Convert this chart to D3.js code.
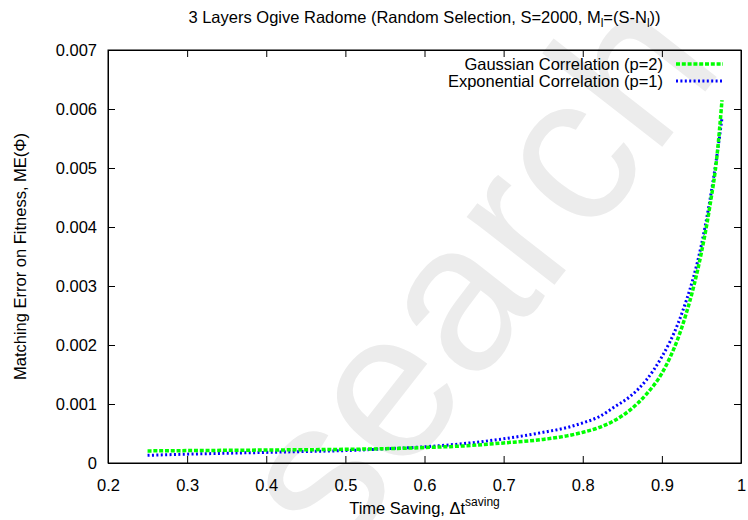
<!DOCTYPE html>
<html>
<head>
<meta charset="utf-8">
<script src="https://cdn.jsdelivr.net/npm/d3@7"></script>
<style>
  body { margin: 0; background: #fff; }
  svg { display: block; font-family: "Liberation Sans", Arial, sans-serif; }
</style>
</head>
<body>
<div class="chart"></div>
<script>
// values
const timeSaving = [0.25, 0.30, 0.35, 0.40, 0.45, 0.50, 0.55, 0.60, 0.65, 0.70, 0.75, 0.78, 0.80,
  0.82, 0.84, 0.86, 0.88, 0.90, 0.91, 0.92, 0.93, 0.94, 0.95, 0.96, 0.97, 0.976];
const gaussianErr = [0.000205, 0.00021, 0.000215, 0.00022, 0.000225, 0.000232, 0.000242, 0.000262, 0.00029,
  0.00034, 0.00040, 0.00046, 0.00052, 0.00060, 0.00072, 0.00090, 0.00116, 0.00152, 0.00178, 0.00210,
  0.00250, 0.00298, 0.00357, 0.00430, 0.00525, 0.00615];
const exponentialErr = [0.00013, 0.00015, 0.000165, 0.00018, 0.000195, 0.00021, 0.00024, 0.000275, 0.00033,
  0.00041, 0.00052, 0.00060, 0.00068, 0.00078, 0.00095, 0.00113, 0.00140, 0.00180, 0.00205, 0.00235,
  0.00272, 0.00315, 0.00370, 0.00440, 0.00525, 0.00585];
const xTicks = [0.2, 0.3, 0.4, 0.5, 0.6, 0.7, 0.8, 0.9, 1];
const yTicks = [0, 0.001, 0.002, 0.003, 0.004, 0.005, 0.006, 0.007];
const seriesNames = ["Gaussian Correlation (p=2)", "Exponential Correlation (p=1)"];

const width = 748;
const height = 520;
const margin = {top: 50, right: 7, bottom: 57, left: 108};
const tickLen = 7;
const fontSize = "16.5px";

const svg = d3.select(".chart").append("svg")
  .attr("width", width)
  .attr("height", height);

const x = d3.scaleLinear().domain([0.2, 1]).range([margin.left, width - margin.right]);
const y = d3.scaleLinear().domain([0, 0.007]).range([height - margin.bottom, margin.top]);

// faint watermark behind everything
svg.append("text")
  .attr("transform", "translate(488,281) rotate(-52)")
  .attr("text-anchor", "middle")
  .attr("dy", "0.26em")
  .style("font-size", "210px")
  .attr("fill", "#ececec")
  .text("search");

// axes with inward ticks, mirrored on top and right
const fmtY = d => d === 0 ? "0" : d3.format(".3f")(d);
const fmtX = d => d === 1 ? "1" : d3.format(".1f")(d);

svg.append("g")
  .attr("transform", "translate(0," + y(0) + ")")
  .call(d3.axisBottom(x).tickValues(xTicks).tickSizeInner(-tickLen).tickSizeOuter(0).tickPadding(16).tickFormat(fmtX));
svg.append("g")
  .attr("transform", "translate(0," + y(0.007) + ")")
  .call(d3.axisTop(x).tickValues(xTicks).tickSizeInner(-tickLen).tickSizeOuter(0).tickFormat(""));
svg.append("g")
  .attr("transform", "translate(" + x(0.2) + ",0)")
  .call(d3.axisLeft(y).tickValues(yTicks).tickSizeInner(-tickLen).tickSizeOuter(0).tickPadding(11).tickFormat(fmtY));
svg.append("g")
  .attr("transform", "translate(" + x(1) + ",0)")
  .call(d3.axisRight(y).tickValues(yTicks).tickSizeInner(-tickLen).tickSizeOuter(0).tickFormat(""));

svg.selectAll(".tick text")
  .style("font-size", fontSize)
  .style("font-family", "Liberation Sans, Arial, sans-serif")
  .attr("fill", "#000");
svg.selectAll(".domain").attr("stroke", "#000");
svg.selectAll(".tick line").attr("stroke", "#000");

// frame
svg.append("rect")
  .attr("x", x(0.2))
  .attr("y", y(0.007))
  .attr("width", x(1) - x(0.2))
  .attr("height", y(0) - y(0.007))
  .attr("fill", "none")
  .attr("stroke", "#000");

// curves
const line = d3.line()
  .x(d => x(d[0]))
  .y(d => y(d[1]))
  .curve(d3.curveMonotoneX);

svg.append("path")
  .datum(d3.zip(timeSaving, exponentialErr))
  .attr("d", line)
  .attr("fill", "none")
  .attr("stroke", "#0000ff")
  .attr("stroke-width", 3)
  .attr("stroke-dasharray", "2,2.4");

svg.append("path")
  .datum(d3.zip(timeSaving, gaussianErr))
  .attr("d", line)
  .attr("fill", "none")
  .attr("stroke", "#00ff00")
  .attr("stroke-width", 3.5)
  .attr("stroke-dasharray", "4,1.8");

// Legends
const legend = svg.append("g");
const legendStyle = [
  {color: "#00ff00", width: 3.5, dash: "4,1.8"},
  {color: "#0000ff", width: 3, dash: "2,2.4"}
];
seriesNames.forEach(function(name, i) {
  legend.append("text")
    .attr("x", 663)
    .attr("y", 70 + i * 17)
    .attr("text-anchor", "end")
    .style("font-size", fontSize)
    .attr("fill", "#000")
    .text(name);
  legend.append("line")
    .attr("x1", 676)
    .attr("x2", 723)
    .attr("y1", 64 + i * 17)
    .attr("y2", 64 + i * 17)
    .attr("stroke", legendStyle[i].color)
    .attr("stroke-width", legendStyle[i].width)
    .attr("stroke-dasharray", legendStyle[i].dash);
});

// title
const title = svg.append("text")
  .attr("x", (x(0.2) + x(1)) / 2)
  .attr("y", 23)
  .attr("text-anchor", "middle")
  .style("font-size", fontSize)
  .attr("fill", "#000");
title.append("tspan").text("3 Layers Ogive Radome (Random Selection, S=2000, M");
title.append("tspan").attr("dy", 4).style("font-size", "12px").text("l");
title.append("tspan").attr("dy", -4).text("=(S-N");
title.append("tspan").attr("dy", 4).style("font-size", "12px").text("l");
title.append("tspan").attr("dy", -4).text("))");

// axis labels
const xLabel = svg.append("text")
  .attr("x", (x(0.2) + x(1)) / 2)
  .attr("y", 514)
  .attr("text-anchor", "middle")
  .style("font-size", fontSize)
  .attr("fill", "#000");
xLabel.append("tspan").text("Time Saving, \u0394t");
xLabel.append("tspan").attr("dy", -8).style("font-size", "12px").text("saving");

svg.append("text")
  .attr("transform", "translate(26," + (y(0) + y(0.007)) / 2 + ") rotate(-90)")
  .attr("text-anchor", "middle")
  .style("font-size", fontSize)
  .attr("fill", "#000")
  .text("Matching Error on Fitness, ME(\u03a6)");
</script>
</body>
</html>
